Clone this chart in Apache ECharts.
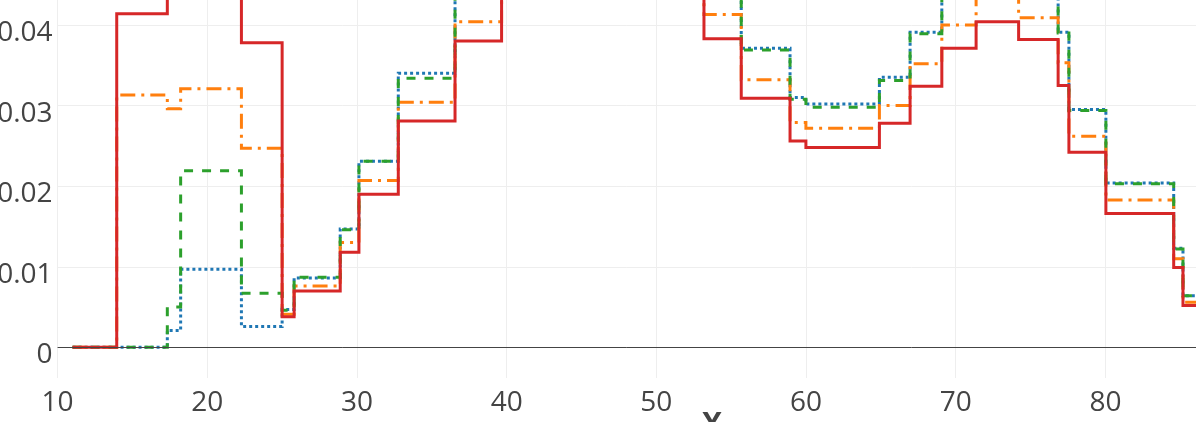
<!DOCTYPE html>
<html>
<head>
<meta charset="utf-8">
<script src="https://cdn.jsdelivr.net/npm/echarts@6/dist/echarts.min.js"></script>
<style>
  html, body { margin: 0; padding: 0; background: #fff; }
  #main { width: 1196px; height: 422px; }
</style>
</head>
<body>
<div id="main"></div>
<script>
var myChart = echarts.init(document.getElementById('main'));

// bin edges shared by all four histograms
var edges = [11, 13.95, 17.33, 18.22, 22.28, 25.0, 25.8, 28.88, 30.13, 32.76, 36.55, 39.66,
  42.5, 45.4, 48.2, 50.8, 53.18, 55.67, 58.93, 59.99, 64.9, 66.95, 69.07, 71.36, 74.2,
  76.84, 77.56, 80.03, 84.56, 85.18, 88];

var blueVals = [0, 0, 0.0021, 0.0097, 0.0026, 0.0047, 0.0086, 0.0147, 0.0231, 0.0340, 0.046,
  0.052, 0.057, 0.060, 0.057, 0.051, 0.045, 0.0371, 0.0310, 0.0302, 0.0335, 0.0391, 0.0445,
  0.0465, 0.0455, 0.0391, 0.0295, 0.0204, 0.0123, 0.0064];
var orangeVals = [0, 0.0313, 0.0296, 0.0321, 0.0247, 0.0041, 0.0076, 0.0130, 0.0207, 0.0304, 0.0404,
  0.048, 0.054, 0.058, 0.055, 0.049, 0.0413, 0.0332, 0.0279, 0.0272, 0.0300, 0.0352, 0.0400,
  0.0445, 0.0409, 0.0353, 0.0262, 0.0183, 0.0110, 0.0056];
var greenVals = [0, 0, 0.0050, 0.0219, 0.0067, 0.0046, 0.0087, 0.0146, 0.0231, 0.0334, 0.046,
  0.052, 0.057, 0.060, 0.057, 0.051, 0.045, 0.0369, 0.0308, 0.0298, 0.0331, 0.0389, 0.0445,
  0.0465, 0.0455, 0.0390, 0.0294, 0.0203, 0.0122, 0.0064];
var redVals = [0, 0.0414, 0.047, 0.050, 0.0378, 0.0038, 0.0070, 0.0118, 0.0190, 0.0281, 0.0380,
  0.047, 0.053, 0.056, 0.052, 0.046, 0.0383, 0.0309, 0.0256, 0.0248, 0.0278, 0.0324, 0.0371,
  0.0404, 0.0382, 0.0325, 0.0242, 0.0166, 0.0099, 0.0052];

var xTicks = [10, 20, 30, 40, 50, 60, 70, 80];
var yTicks = [0, 0.01, 0.02, 0.03, 0.04];

function stepData(vals) {
  var pts = [];
  for (var i = 0; i < vals.length; i++) pts.push([edges[i], vals[i]]);
  pts.push([edges[edges.length - 1], vals[vals.length - 1]]);
  return pts;
}

function hist(name, vals, color, dash) {
  return {
    name: name,
    type: 'line',
    step: 'end',
    symbol: 'none',
    data: stepData(vals),
    lineStyle: { color: color, width: 3, type: dash, cap: 'butt', join: 'miter' }
  };
}

var font = '"Open Sans", sans-serif';

var series = [
  hist('a', blueVals, '#1f77b4', [3, 3]),
  hist('b', orangeVals, '#ff7f0e', [15, 6, 3, 6]),
  hist('c', greenVals, '#2ca02c', [9, 9]),
  hist('d', redVals, '#d62728', 'solid')
];
// zero line
series[0].markLine = {
  silent: true,
  symbol: 'none',
  label: { show: false },
  lineStyle: { color: '#444', width: 1, type: 'solid' },
  data: [{ yAxis: 0 }]
};

var option = {
  animation: false,
  backgroundColor: '#fff',
  grid: { left: 57.6, right: 0, top: 0, bottom: 44, outerBoundsMode: 'none', containLabel: false },
  xAxis: {
    type: 'value',
    min: 10,
    max: 86.05,
    axisLine: { show: false, onZero: false },
    axisTick: { show: false, customValues: xTicks },
    axisLabel: { customValues: xTicks, color: '#444', fontSize: 28, fontFamily: font, margin: 11 },
    splitLine: { show: true, lineStyle: { color: '#eee', width: 1 } }
  },
  yAxis: {
    type: 'value',
    min: -0.0038,
    max: 0.0431,
    axisLine: { show: false },
    axisTick: { show: false, customValues: yTicks },
    axisLabel: {
      customValues: yTicks, color: '#444', fontSize: 28, fontFamily: font, margin: 5,
      formatter: function (v) { return '{a|' + (v === 0 ? '0' : v.toFixed(2)) + '}'; },
      rich: { a: { color: '#444', fontSize: 28, fontFamily: font, padding: [16, 0, 0, 0] } }
    },
    splitLine: { show: true, lineStyle: { color: '#eee', width: 1 } }
  },
  graphic: [{
    type: 'text',
    left: 702,
    top: 410,
    style: { text: 'X', font: 'bold 30px ' + font, fill: '#444' }
  }],
  series: series
};
myChart.setOption(option);
</script>
</body>
</html>
